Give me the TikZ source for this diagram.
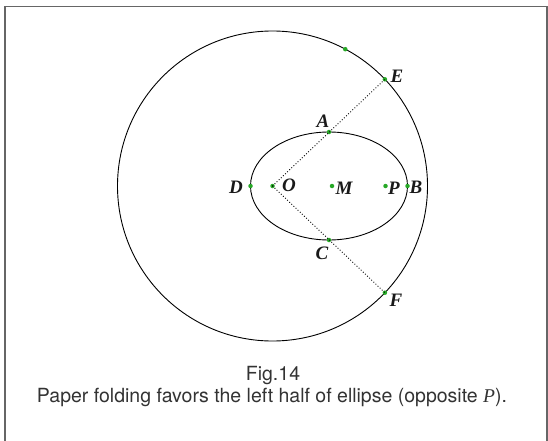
\documentclass[tikz,border=0pt]{standalone}
\usepackage{fontspec}
\setmainfont{Liberation Serif}
\newfontfamily\capfont{TeX Gyre Heros}
\begin{document}
\begin{tikzpicture}[x=1pt,y=-1pt,
  curve/.style={line width=0.9pt,black},
  fold/.style={line width=0.9pt,dotted,black},
  gdot/.style={circle,fill=green!60!black!85,inner sep=0pt,minimum size=4.5pt},
  lab/.style={font=\fontsize{19}{21}\selectfont\bfseries\itshape,text=black!90,inner sep=1pt},
  captxt/.style={font=\capfont\fontsize{19.5}{21}\selectfont,text=black!80,inner sep=0pt},
  frame/.style={line width=1.4pt,black!60}]
\useasboundingbox (0,0) rectangle (548,441);
\draw[frame] (5,445) -- (5,6.5) -- (547,6.5) -- (547,445);
\coordinate (O) at (272.5,186);
\coordinate (Mc) at (329,186);
\draw[curve] (O) circle[radius=155];
\draw[curve] (Mc) ellipse[x radius=78.5,y radius=54];
\node[gdot] (o) at (O) {};
\node[gdot] (m) at (332,186) {};
\node[gdot] (p) at (385.5,186) {};
\node[gdot] (d) at (250.5,186) {};
\node[gdot] (b) at (407.5,186) {};
\node[gdot] (a) at (329,132) {};
\node[gdot] (c) at (329,240) {};
\node[gdot] (e) at (384.9,79.3) {};
\node[gdot] (f) at (384.9,292.7) {};
\node[gdot] (g) at (345.3,49.2) {};
\draw[fold] (o.center) -- (e.center);
\draw[fold] (o.center) -- (f.center);
\node[lab] (lA) at (323,121) {A};
\node[lab] (lC) at (322,253) {C};
\node[lab] (lD) at (236,187) {D};
\node[lab] (lO) at (289,185) {O};
\node[lab] (lM) at (344,188) {M};
\node[lab] (lP) at (394,188) {P};
\node[lab] (lB) at (416,187) {B};
\node[lab] (lE) at (397,76) {E};
\node[lab] (lF) at (396,300) {F};
\node[captxt,anchor=base] (cap1) at (273,380) {Fig.14};
\node[captxt,anchor=base] (cap2) at (272,402) {Paper folding favors the left half of ellipse (opposite {\rmfamily\itshape P}).};
\end{tikzpicture}
\end{document}
